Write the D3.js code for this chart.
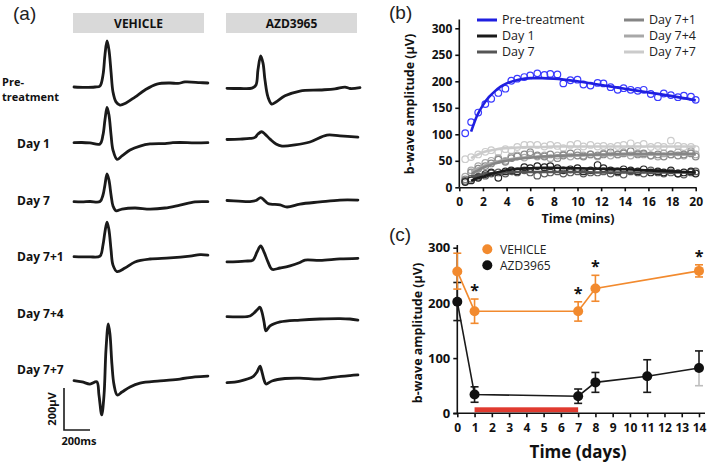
<!DOCTYPE html>
<html><head><meta charset="utf-8">
<script src="https://cdn.jsdelivr.net/npm/d3@7"></script>
<style>body{margin:0;background:#fff} svg{font-family:"Open Sans",sans-serif;display:block}</style>
</head><body><svg id="fig" width="709" height="462"></svg>
<script>
// ---------------- DATA ----------------
// Panel (a): ERG traces, [time ms, amplitude µV] relative to the trace start
const traceGroups = ["VEHICLE", "AZD3965"];
const traceRowLabels = [["Pre-", "treatment"], ["Day 1"], ["Day 7"], ["Day 7+1"], ["Day 7+4"], ["Day 7+7"]];
const vehPre = [[0,0],[85,-2],[162,0],[200,5],[223,57],[238,152],[254,219],[269,176],[285,71],[300,-24],[323,-71],[354,-86],[400,-76],[469,-48],[546,-14],[638,14],[738,19],[800,17],[854,24],[969,21],[1030,19]];
const vehDay1 = [[0,0],[60,1],[123,-1],[200,-6],[223,37],[238,108],[254,168],[269,132],[285,37],[300,-35],[331,-79],[369,-63],[431,-35],[508,-16],[585,-6],[700,-4],[760,0],[815,1],[931,-1],[1030,0]];
const vehDay7 = [[0,0],[60,-1],[123,1],[200,1],[223,32],[238,80],[254,132],[269,103],[285,32],[300,-20],[323,-43],[369,-35],[469,-30],[585,-35],[700,-30],[815,-16],[931,-1],[1030,0]];
const vehDay71 = [[0,0],[60,-1],[123,-1],[200,3],[223,56],[238,118],[254,165],[269,127],[285,32],[300,-40],[331,-71],[392,-54],[469,-25],[585,-11],[738,-6],[892,3],[969,10],[1030,8]];
const vehDay77 = [[0,0],[62,-6],[123,-16],[175,-5],[192,-68],[213,-163],[231,-68],[246,147],[264,271],[277,219],[292,76],[308,-20],[333,-68],[369,-54],[431,-30],[508,-12],[662,-1],[815,8],[931,18],[1030,22]];
const azdPre = [[0,0],[100,-1],[192,1],[223,16],[238,87],[259,154],[277,120],[292,40],[315,-41],[344,-75],[377,-65],[446,-36],[561,-13],[715,-8],[831,-3],[908,6],[946,-1],[1023,3]];
const azdDay1 = [[0,-1],[100,1],[177,4],[215,9],[238,25],[266,36],[292,25],[331,1],[377,-22],[423,-32],[523,-27],[638,-13],[769,20],[869,16],[1007,10]];
const azdDay7 = [[0,1],[90,-2],[177,-4],[223,1],[259,15],[285,3],[315,-13],[408,-20],[462,-30],[561,-16],[715,-6],[869,3],[1007,3]];
const azdDay71 = [[0,-1],[138,3],[200,8],[231,46],[259,75],[285,46],[315,-1],[346,-36],[408,-30],[485,-20],[561,-4],[600,8],[715,6],[869,13],[1007,16]];
const azdDay74 = [[0,0],[100,-1],[177,3],[208,18],[238,37],[254,45],[269,22],[285,-25],[300,-67],[331,-44],[408,-25],[561,-16],[715,-11],[869,-9],[946,-11],[1007,-16]];
const azdDay77 = [[0,0],[100,8],[200,29],[231,51],[254,79],[269,51],[285,13],[300,-6],[346,8],[446,20],[561,22],[715,17],[831,27],[946,34],[1007,37]];
const scaleBarUv = 200, scaleBarMs = 200;

// Panel (b): b-wave amplitude (µV) vs time (mins)
const timeMins = [0.5,1.0,1.6,2.2,2.7,3.3,3.9,4.4,4.9,5.5,6.0,6.6,7.2,7.7,8.3,8.8,9.4,10.0,10.5,11.1,11.7,12.2,12.8,13.4,13.9,14.5,15.1,15.6,16.2,16.8,17.3,17.9,18.5,19.0,19.6,20.0];
const preVals   = [102,123,141,157,167,178,186,201,205,208,211,215,212,214,213,196,202,203,194,192,197,196,189,184,187,184,182,184,176,170,177,174,170,173,171,165];
const day1Vals  = [10,13,18,25,28,18,30,32,30,38,36,40,38,40,36,32,34,36,30,32,42,36,32,30,34,32,30,34,28,30,28,32,26,28,30,26];
const day7Vals  = [12,16,20,22,26,28,26,30,28,32,28,22,26,28,30,26,28,30,26,28,28,30,26,28,24,30,28,26,32,28,26,28,26,24,28,30];
const day71Vals = [15,28,35,40,45,52,48,55,58,62,66,60,58,62,55,60,64,60,58,62,60,62,66,62,64,68,62,64,60,62,58,62,60,62,64,58];
const day74Vals = [20,32,40,46,50,55,50,58,60,56,62,58,60,55,60,62,58,66,60,62,58,64,60,62,66,60,64,62,60,58,64,62,66,60,68,62];
const day77Vals = [53,57,62,67,70,66,72,70,76,80,80,80,77,80,78,74,80,82,77,80,77,78,76,78,80,83,78,82,76,78,76,88,78,76,76,72];
const fitMins   = [1,1.5,2,2.5,3,3.5,4,5,6,7,8,10,12,14,16,18,20];
const preFit    = [105,135,155,170,181,190,196,203,206,206,205,200,193,186,179,172,164];
const day1Fit   = [12,17,20,24,27,30,32,35,36,37,37,36,35,34,32,30,28];
const day7Fit   = [20,22,24,26,27,27.5,28,29,29,29,29,29,28,28,28,28,28];
const day71Fit  = [25,31,37,41,45,48,50,54,56,58,59,61,62,63,63,63,63];
const day74Fit  = [30,35,40,44,47,50,52,55,57,58,59,60,61,61,62,62,62];
const day77Fit  = [55,61,66,69,71,73,74,75,76,76,77,77,77,77,77,77,77];
const bSeriesNames = ["Pre-treatment","Day 1","Day 7","Day 7+1","Day 7+4","Day 7+7"];
const bYTicks = [0,50,100,150,200,250,300];
const bXTicks = [0,2,4,6,8,10,12,14,16,18,20];

// Panel (c): b-wave amplitude (µV) vs time (days)
const vehDays = [0,1,7,8,14];
const vehMean = [257,185,185,226,258];
const vehLo   = [225,163,167,203,247];
const vehHi   = [290,207,202,250,269];
const azdDays = [0,1,7,8,11,14];
const azdMean = [202,34,31,56,67,82];
const azdLo   = [168,20,18,38,38,50];
const azdHi   = [237,48,44,74,97,113];
const sigDays = [1,7,8,14];
const treatSpan = [1,7];
const cYTicks = [0,100,200,300];
const cXTicks = d3.range(0,15);

// ---------------- DRAW ----------------
const svg = d3.select("#fig");
const ink = "#1a1a1a";
const panelFont = "Arial, 'Liberation Sans', sans-serif";

// ===== Panel (a) =====
svg.append("text").attr("x",13).attr("y",20).attr("font-family",panelFont)
  .attr("font-size",19).attr("fill","#222").text("(a)");
const colX = [74, 227];
const colW = 131;
traceGroups.forEach((g,i)=>{
  svg.append("rect").attr("x",colX[i]-1).attr("y",13).attr("width",colW).attr("height",20).attr("fill","#d9d9d9");
  svg.append("text").attr("x",colX[i]-1+colW/2).attr("y",27.5).attr("text-anchor","middle")
    .attr("font-weight",700).attr("font-size",12).attr("fill","#111").text(g);
});
const labelY = [86, 148, 205, 261, 317.5, 373.5];
traceRowLabels.forEach((lab,i)=>{
  const x = lab.length===2 ? 2 : 17;
  lab.forEach((s,j)=>{
    svg.append("text").attr("x",x).attr("y",labelY[i]+j*15).attr("font-weight",700)
      .attr("font-size",lab.length===2?11:12).attr("fill","#111").text(s);
  });
});
const msScale = d3.scaleLinear().domain([0,200]).range([0,26]);
const uvScale = d3.scaleLinear().domain([0,200]).range([0,-42]);
function drawTrace(data, x0, base){
  const ln = d3.line().x(d=>x0+msScale(d[0])).y(d=>base+uvScale(d[1])).curve(d3.curveCatmullRom.alpha(0.5));
  svg.append("path").attr("d",ln(data)).attr("fill","none").attr("stroke",ink).attr("stroke-width",2.8)
    .attr("stroke-linejoin","round").attr("stroke-linecap","round");
}
const vehTraces = [vehPre, vehDay1, vehDay7, vehDay71, null, vehDay77];
const azdTraces = [azdPre, azdDay1, azdDay7, azdDay71, azdDay74, azdDay77];
const vehBase = [87, 142.7, 201.7, 256.7, null, 380.7];
const azdBase = [88.3, 139.3, 200.7, 261.7, 316.7, 382.7];
vehTraces.forEach((t,i)=>{ if(t) drawTrace(t, colX[0], vehBase[i]); });
azdTraces.forEach((t,i)=>{ if(t) drawTrace(t, colX[1], azdBase[i]); });
// scale bar
const sbX = 64, sbY = 430;
svg.append("path").attr("d",`M${sbX},${sbY+uvScale(scaleBarUv)}V${sbY}H${sbX+msScale(scaleBarMs)}`)
  .attr("fill","none").attr("stroke",ink).attr("stroke-width",1.6);
svg.append("text").attr("transform",`translate(56,${sbY+uvScale(scaleBarUv)/2}) rotate(-90)`).attr("text-anchor","middle")
  .attr("font-weight",700).attr("font-size",11).attr("fill","#111").text("200μV");
svg.append("text").attr("x",79).attr("y",445).attr("text-anchor","middle")
  .attr("font-weight",700).attr("font-size",11).attr("fill","#111").text("200ms");

// ===== Panel (b) =====
svg.append("text").attr("x",389).attr("y",19).attr("font-family",panelFont)
  .attr("font-size",19).attr("fill","#222").text("(b)");
const bx = d3.scaleLinear().domain([0,20]).range([459.3,695.7]);
const by = d3.scaleLinear().domain([0,300]).range([187.3,28.3]);
const bColors = ["#1f1fe0","#1a1a1a","#555555","#858585","#a8a8a8","#cbcbcb"];
const bPtColors = ["#3a3aff","#262626","#5e5e5e","#8a8a8a","#ababab","#cccccc"];
const bVals = [preVals, day1Vals, day7Vals, day71Vals, day74Vals, day77Vals];
const bFits = [preFit, day1Fit, day7Fit, day71Fit, day74Fit, day77Fit];
const order = [5,4,3,2,1,0];
order.forEach(k=>{
  const g = svg.append("g");
  g.selectAll("circle").data(bVals[k]).enter().append("circle")
    .attr("cx",(d,i)=>bx(timeMins[i])).attr("cy",d=>by(d)).attr("r",3.3)
    .attr("fill","none").attr("stroke",bPtColors[k]).attr("stroke-width",1.2);
});
order.forEach(k=>{
  const ln = d3.line().x((d,i)=>bx(fitMins[i])).y(d=>by(d)).curve(d3.curveMonotoneX);
  svg.append("path").attr("d",ln(bFits[k])).attr("fill","none").attr("stroke",bColors[k]).attr("stroke-width",2.6);
});
const bAxisY = svg.append("g").attr("transform","translate(459.3,0)")
  .call(d3.axisLeft(by).tickValues(bYTicks).tickSize(4).tickSizeOuter(0));
const bAxisX = svg.append("g").attr("transform","translate(0,187.3)")
  .call(d3.axisBottom(bx).tickValues(bXTicks).tickSize(4).tickSizeOuter(0));
[bAxisY,bAxisX].forEach(a=>{
  a.selectAll("path").attr("stroke","#111").attr("stroke-width",1.6);
  a.selectAll("line").attr("stroke","#111").attr("stroke-width",1.6);
  a.selectAll("text").attr("font-family","'Open Sans',sans-serif").attr("font-weight",700).attr("font-size",12).attr("fill","#111");
});
bAxisY.select("path").attr("d","M0,19.5V187.3");
bAxisX.selectAll("text").attr("dy","0.95em");
svg.append("text").attr("transform","translate(414,104) rotate(-90)").attr("text-anchor","middle")
  .attr("font-weight",700).attr("font-size",12.5).attr("fill","#111").text("b-wave amplitude (μV)");
svg.append("text").attr("x",578).attr("y",223).attr("text-anchor","middle")
  .attr("font-weight",700).attr("font-size",12.5).attr("fill","#111").text("Time (mins)");
const legPos = [[477,20],[477,36],[477,52],[624,20],[624,36],[624,52]];
bSeriesNames.forEach((n,k)=>{
  const [lx,ly] = legPos[k];
  svg.append("line").attr("x1",lx).attr("x2",lx+20).attr("y1",ly).attr("y2",ly).attr("stroke",bColors[k]).attr("stroke-width",3);
  svg.append("text").attr("x",lx+25).attr("y",ly+4.3).attr("font-size",12.5).attr("fill","#222").text(n);
});

// ===== Panel (c) =====
svg.append("text").attr("x",389).attr("y",241).attr("font-family",panelFont)
  .attr("font-size",19).attr("fill","#222").text("(c)");
const cx = d3.scaleLinear().domain([0,14]).range([457.3,699]);
const cy = d3.scaleLinear().domain([0,300]).range([413.3,247.7]);
const orange = "#f28a2e";
svg.append("rect").attr("x",cx(treatSpan[0])).attr("y",cy(0)-6).attr("width",cx(treatSpan[1])-cx(treatSpan[0])).attr("height",5)
  .attr("fill","#e03a2f");
const cAxisY = svg.append("g").attr("transform",`translate(${cx(0)},0)`)
  .call(d3.axisLeft(cy).tickValues(cYTicks).tickSize(4).tickSizeOuter(0));
const cAxisX = svg.append("g").attr("transform",`translate(0,${cy(0)})`)
  .call(d3.axisBottom(cx).tickValues(cXTicks).tickSize(4).tickSizeOuter(0));
[cAxisY,cAxisX].forEach(a=>{
  a.selectAll("path").attr("stroke","#111").attr("stroke-width",1.6);
  a.selectAll("line").attr("stroke","#111").attr("stroke-width",1.6);
  a.selectAll("text").attr("font-family","'Open Sans',sans-serif").attr("font-weight",700).attr("font-size",12).attr("fill","#111");
});
cAxisY.selectAll("text").attr("font-size",13);
cAxisY.select("path").attr("d",`M0,245V${cy(0)}`);
cAxisX.select("path").attr("d",`M${cx(0)-4},0H705`);
cAxisX.selectAll("text").attr("dy","0.95em");
svg.append("text").attr("transform","translate(422,333) rotate(-90)").attr("text-anchor","middle")
  .attr("font-weight",700).attr("font-size",12.5).attr("fill","#111").text("b-wave amplitude  (μV)");
svg.append("text").attr("x",578).attr("y",458).attr("text-anchor","middle")
  .attr("font-weight",700).attr("font-size",17).attr("fill","#111").text("Time (days)");
const azdLine = d3.line().x((d,i)=>cx(azdDays[i])).y(d=>cy(d));
svg.append("path").attr("d",azdLine(azdMean)).attr("fill","none").attr("stroke",ink).attr("stroke-width",1.6);
azdMean.forEach((m,i)=>{
  const x = cx(azdDays[i]);
  const lowCol = i===azdMean.length-1 ? "#bdbdbd" : ink;
  svg.append("line").attr("x1",x).attr("x2",x).attr("y1",cy(m)).attr("y2",cy(azdHi[i])).attr("stroke",ink).attr("stroke-width",1.6);
  svg.append("line").attr("x1",x-4).attr("x2",x+4).attr("y1",cy(azdHi[i])).attr("y2",cy(azdHi[i])).attr("stroke",ink).attr("stroke-width",1.6);
  svg.append("line").attr("x1",x).attr("x2",x).attr("y1",cy(m)).attr("y2",cy(azdLo[i])).attr("stroke",lowCol).attr("stroke-width",1.6);
  svg.append("line").attr("x1",x-4).attr("x2",x+4).attr("y1",cy(azdLo[i])).attr("y2",cy(azdLo[i])).attr("stroke",lowCol).attr("stroke-width",1.6);
});
const vehLine = d3.line().x((d,i)=>cx(vehDays[i])).y(d=>cy(d));
svg.append("path").attr("d",vehLine(vehMean)).attr("fill","none").attr("stroke",orange).attr("stroke-width",1.6);
vehMean.forEach((m,i)=>{
  const x = cx(vehDays[i]);
  svg.append("line").attr("x1",x).attr("x2",x).attr("y1",cy(vehLo[i])).attr("y2",cy(vehHi[i])).attr("stroke",orange).attr("stroke-width",1.6);
  [vehLo[i],vehHi[i]].forEach(v=>svg.append("line").attr("x1",x-4).attr("x2",x+4).attr("y1",cy(v)).attr("y2",cy(v)).attr("stroke",orange).attr("stroke-width",1.6));
});
svg.selectAll(".azdpt").data(azdMean).enter().append("circle").attr("cx",(d,i)=>cx(azdDays[i])).attr("cy",d=>cy(d)).attr("r",5).attr("fill","#111");
svg.selectAll(".vehpt").data(vehMean).enter().append("circle").attr("cx",(d,i)=>cx(vehDays[i])).attr("cy",d=>cy(d)).attr("r",5).attr("fill",orange);
sigDays.forEach(d=>{
  const i = vehDays.indexOf(d);
  svg.append("text").attr("x",cx(d)).attr("y",cy(vehHi[i])-3).attr("text-anchor","middle")
    .attr("font-weight",700).attr("font-size",16).attr("fill","#111").text("*");
});
svg.append("circle").attr("cx",487.3).attr("cy",249.3).attr("r",5).attr("fill",orange);
svg.append("text").attr("x",500).attr("y",253.5).attr("font-size",12).attr("fill","#222").text("VEHICLE");
svg.append("circle").attr("cx",487.3).attr("cy",265.3).attr("r",5).attr("fill","#111");
svg.append("text").attr("x",500).attr("y",269.5).attr("font-size",12).attr("fill","#222").text("AZD3965");
</script></body></html>
